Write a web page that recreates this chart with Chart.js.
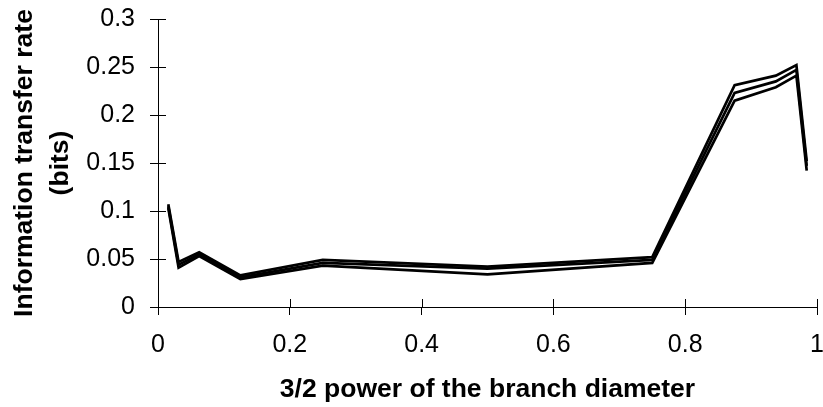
<!DOCTYPE html>
<html>
<head>
<meta charset="utf-8">
<script src="https://cdn.jsdelivr.net/npm/chart.js@4/dist/chart.umd.min.js"></script>
<style>
html,body{margin:0;padding:0;background:#fff;}
#wrap{width:823px;height:407px;}
</style>
</head>
<body>
<div id="wrap"><canvas id="c" width="823" height="407"></canvas></div>
<script>
// Data
const xValues = [1/64, 1/32, 1/16, 1/8, 1/4, 1/2, 3/4, 7/8, 15/16, 31/32, 63/64];
const series1 = [0.107, 0.047, 0.057, 0.033, 0.049, 0.042, 0.052, 0.231, 0.241, 0.252, 0.152];
const series2 = [0.105, 0.044, 0.055, 0.031, 0.046, 0.040, 0.049, 0.223, 0.235, 0.247, 0.147];
const series3 = [0.103, 0.041, 0.053, 0.029, 0.043, 0.034, 0.046, 0.215, 0.229, 0.241, 0.142];
const xTitle = '3/2 power of the branch diameter';
const yTitle = ['Information transfer rate', '(bits)'];

const FONT = 'Arial, "Liberation Sans", sans-serif';
const toPts = arr => arr.map((v, i) => ({x: xValues[i], y: v}));
const mk = arr => ({
  data: toPts(arr), borderColor: '#000', backgroundColor: '#000',
  borderWidth: 2.7, pointRadius: 0, tension: 0, fill: false
});

// draws the inner half of the crossing tick marks
const innerTicks = {
  id: 'innerTicks',
  afterDraw(chart) {
    const ctx = chart.ctx, a = chart.chartArea;
    ctx.save();
    ctx.strokeStyle = '#000';
    ctx.lineWidth = 1;
    const xs = chart.scales.x, ys = chart.scales.y;
    xs.ticks.forEach((t, i) => {
      const p = Math.round(xs.getPixelForTick(i)) + 0.5;
      ctx.beginPath(); ctx.moveTo(p, a.bottom); ctx.lineTo(p, a.bottom - 8); ctx.stroke();
    });
    ys.ticks.forEach((t, i) => {
      const p = Math.round(ys.getPixelForTick(i)) + 0.5;
      ctx.beginPath(); ctx.moveTo(a.left, p); ctx.lineTo(a.left + 8, p); ctx.stroke();
    });
    ctx.restore();
  }
};

new Chart(document.getElementById('c'), {
  type: 'line',
  data: { datasets: [mk(series1), mk(series2), mk(series3)] },
  options: {
    responsive: false,
    animation: false,
    layout: { padding: 0 },
    plugins: { legend: { display: false }, tooltip: { enabled: false } },
    scales: {
      x: {
        type: 'linear', min: 0, max: 1,
        afterFit: s => { s.height = 100; s.paddingRight = 6; s.paddingLeft = 0; },
        ticks: { stepSize: 0.2, color: '#000', font: { family: FONT, size: 25 }, padding: 15, maxRotation: 0,
                 callback: v => String(Math.round(v * 10) / 10) },
        grid: { drawOnChartArea: false, color: '#000', tickLength: 8, tickColor: '#000' },
        border: { color: '#000', width: 1 },
        title: { display: true, text: xTitle, color: '#000', font: { family: FONT, size: 26.5, weight: 'bold' }, padding: { top: 0, bottom: 1 } }
      },
      y: {
        type: 'linear', min: 0, max: 0.3,
        afterFit: s => { s.width = 158; s.paddingTop = 19; s.paddingBottom = 0; },
        ticks: { stepSize: 0.05, color: '#000', font: { family: FONT, size: 25 }, padding: 15,
                 callback: v => String(Math.round(v * 100) / 100) },
        grid: { drawOnChartArea: false, color: '#000', tickLength: 8, tickColor: '#000' },
        border: { color: '#000', width: 1 },
        title: { display: true, text: yTitle, color: '#000', font: { family: FONT, size: 26.5, weight: 'bold', lineHeight: 1.36 }, padding: { top: 7, bottom: 0 } }
      }
    }
  },
  plugins: [innerTicks]
});
</script>
</body>
</html>
